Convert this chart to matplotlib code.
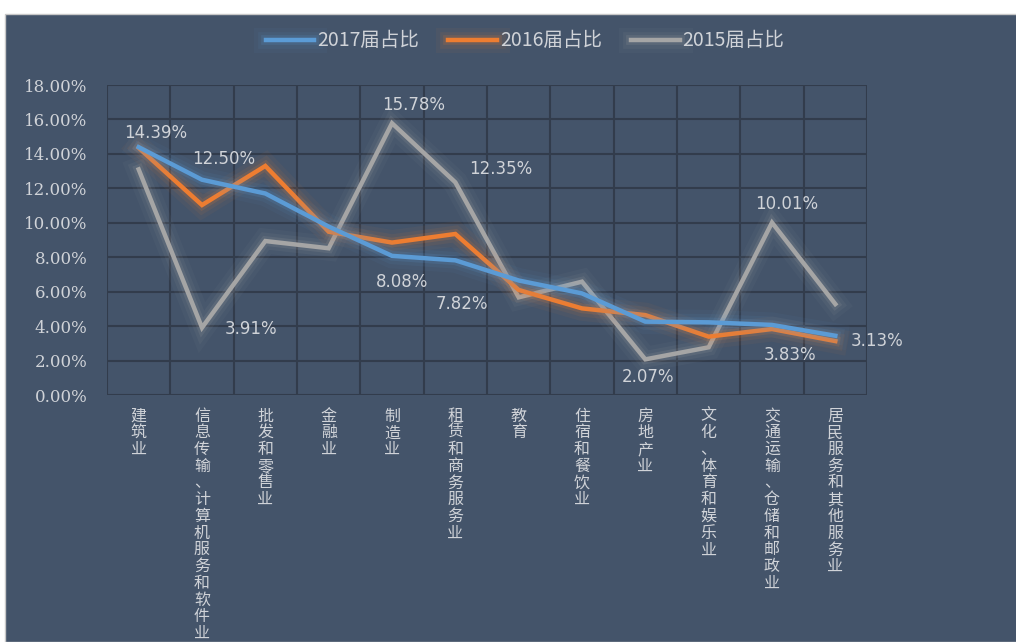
import matplotlib
matplotlib.use("Agg")
import matplotlib.pyplot as plt
import matplotlib.patheffects as pe
from matplotlib.patches import Rectangle
from matplotlib.ticker import FuncFormatter

plt.rcParams['font.family'] = ['Noto Sans CJK SC', 'DejaVu Sans']

categories = ["建筑业", "信息传输、计算机服务和软件业", "批发和零售业", "金融业", "制造业",
              "租赁和商务服务业", "教育", "住宿和餐饮业", "房地产业", "文化、体育和娱乐业",
              "交通运输、仓储和邮政业", "居民服务和其他服务业"]
share_2017 = [14.39, 12.50, 11.70, 9.78, 8.08, 7.82, 6.65, 5.90, 4.26, 4.22, 4.07, 3.44]
share_2016 = [14.35, 11.03, 13.30, 9.48, 8.85, 9.35, 6.10, 5.03, 4.64, 3.39, 3.83, 3.13]
share_2015 = [13.10, 3.91, 8.94, 8.52, 15.78, 12.35, 5.67, 6.58, 2.07, 2.77, 10.01, 5.28]
series_names = ["2017届占比", "2016届占比", "2015届占比"]

bg = '#44546a'
txt = '#d0d3d8'
grid = '#323c4c'

fig = plt.figure(figsize=(10.16, 6.42), dpi=100, facecolor='white')
fig.patches.append(Rectangle((5 / 1016, 0), 1, 1 - 14 / 642, transform=fig.transFigure,
                             facecolor=bg, edgecolor='#c8c8c8', lw=1, zorder=-10))

ax = fig.add_axes([107 / 1016, 1 - 395 / 642, 760 / 1016, 310 / 642])
ax.set_facecolor(bg)
x = list(range(len(categories)))

colors = ['#5b9bd5', '#ed7d31', '#a5a5a5']
all_series = [share_2017, share_2016, share_2015]
order = [2, 1, 0]
for i in order:
    glow = [pe.Stroke(linewidth=18, foreground=colors[i], alpha=0.05),
            pe.Stroke(linewidth=12, foreground=colors[i], alpha=0.08),
            pe.Stroke(linewidth=7, foreground=colors[i], alpha=0.15),
            pe.Normal()]
    ax.plot(x, all_series[i], color=colors[i], lw=3.2, solid_joinstyle='miter',
            path_effects=glow, zorder=3 + (2 - i), label=series_names[i])

# data labels: (series index, point index, dx px, dy px)
labels = [(0, 0, 17, 14), (0, 1, 22, 21), (2, 1, 49, -1), (2, 4, 22, 18),
          (0, 4, 10, -26), (0, 5, 7, -44), (2, 5, 45, 13), (2, 8, 3, -18),
          (2, 10, 15, 19), (1, 10, 18, -26), (1, 11, 42, 0)]
for s, j, dx, dy in labels:
    v = all_series[s][j]
    ax.annotate(f"{v:.2f}%", (j, v), xytext=(dx, dy), textcoords='offset pixels',
                ha='center', va='center', color=txt, fontsize=12,
                family='DejaVu Sans', zorder=10)

ax.set_xlim(-0.5, len(categories) - 0.5)
ax.set_ylim(0, 18)
ax.set_yticks(range(0, 19, 2))
ax.yaxis.set_major_formatter(FuncFormatter(lambda v, p: f"{v:.2f}%"))
for t in ax.get_yticklabels():
    t.set_family('DejaVu Serif')
ax.tick_params(axis='y', length=0, pad=14, labelsize=12, labelcolor=txt)

ax.set_xticks(x)
ax.set_xticklabels(["\n".join(c) for c in categories], fontsize=11.5, color=txt,
                   linespacing=0.98, va='top')
ax.tick_params(axis='x', length=0, pad=9)

for b in [k - 0.5 for k in range(len(categories) + 1)]:
    ax.axvline(b, color=grid, lw=1.5, zorder=1)
for yv in range(0, 19, 2):
    ax.axhline(yv, color=grid, lw=1.5, zorder=1)
for sp in ax.spines.values():
    sp.set_visible(False)

handles, lbls = ax.get_legend_handles_labels()
hmap = dict(zip(lbls, handles))
leg = fig.legend([hmap[n] for n in series_names], series_names, loc='center',
                 bbox_to_anchor=(525 / 1016, 1 - 41 / 642), ncol=3, frameon=False,
                 handlelength=2.5, handletextpad=0.15, columnspacing=1.5, fontsize=14)
for t in leg.get_texts():
    t.set_color(txt)

fig.savefig("out.png", dpi=100, facecolor=fig.get_facecolor())
